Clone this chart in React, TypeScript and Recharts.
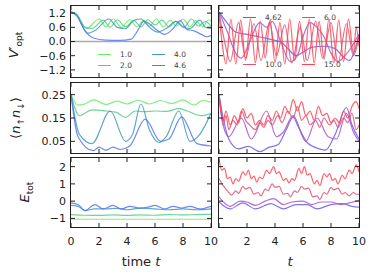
import React from 'react';
import { LineChart, Line, XAxis, YAxis, ReferenceLine } from 'recharts';

type Pt = [number, number];

const timeTicks = [0, 2, 4, 6, 8, 10];
const vTicks = [-1.2, -0.6, 0, 0.6, 1.2];
const nTicks = [0.05, 0.15, 0.25];
const eTicks = [-1, 0, 1, 2];

const leftNames = ['1.0', '2.0', '4.0', '4.6'];
const rightNames = ['4.62', '6.0', '10.0', '15.0'];
const leftColors = ['#66ee66', '#55cc88', '#4499bb', '#5577ee'];
const rightColors = ['#6a5aee', '#aa55cc', '#dd5577', '#ff4450'];

// V'_opt, left column
const vL1: Pt[] = [[0, 1.25], [0.4, 1.15], [1.1, 0.55], [2.0, 0.95], [2.5, 0.62], [3.0, 0.95], [3.6, 0.6], [4.2, 0.92], [4.7, 0.62], [5.2, 0.9], [5.6, 0.65], [6.1, 0.95], [6.6, 0.62], [7.1, 0.9], [7.5, 0.65], [8.0, 0.95], [8.5, 0.62], [8.9, 0.88], [9.4, 0.63], [9.85, 0.92], [10, 0.85]];
const vL2: Pt[] = [[0, 1.25], [0.4, 1.15], [1.0, 0.6], [1.5, 0.55], [2.3, 0.9], [2.8, 0.6], [3.3, 0.92], [3.9, 0.62], [4.5, 0.88], [5.0, 0.62], [5.5, 0.92], [6.0, 0.7], [6.5, 0.9], [7.0, 0.62], [7.5, 0.85], [8.1, 0.62], [8.6, 0.95], [9.1, 0.65], [9.6, 0.85], [10, 0.65]];
const vL3: Pt[] = [[0, 1.25], [0.4, 1.1], [1.2, 0.35], [1.8, 0.5], [2.7, 0.95], [3.3, 0.6], [3.9, 0.55], [4.5, 0.9], [5.0, 0.95], [5.6, 0.6], [6.2, 0.4], [6.8, 0.55], [7.5, 0.85], [8.0, 0.6], [8.5, 0.55], [9.2, 0.9], [9.6, 0.6], [10, 0.55]];
const vL4: Pt[] = [[0, 1.25], [0.4, 1.1], [1.0, 0.45], [1.6, 0.15], [2.5, 0.06], [3.5, 0.05], [4.3, 0.1], [4.8, 0.5], [5.2, 0.85], [5.6, 0.75], [6.1, 0.5], [6.7, 0.3], [7.3, 0.55], [7.8, 0.88], [8.3, 0.5], [8.8, 0.45], [9.3, 0.3], [9.7, 0.2], [10, 0.25]];

// V'_opt, right column
const vR1: Pt[] = [[0, 1.25], [0.5, 0.85], [1.2, 0.4], [2.0, 0.3], [3.0, 0.18], [4.0, 0.05], [4.5, -0.05], [5.0, -0.35], [5.5, -0.6], [6.0, -0.45], [6.6, -0.25], [7.5, -0.2], [8.3, -0.3], [8.8, -0.6], [9.3, -0.8], [9.6, -0.55], [10, 0.3]];
const vR2: Pt[] = [[0, 1.25], [0.6, 0.4], [1.2, -0.5], [1.6, -0.7], [2.2, 0.0], [2.9, 0.8], [3.4, 0.6], [3.8, 0.85], [4.4, 0], [5.1, -0.85], [5.6, -0.6], [6.0, 0.2], [6.5, 0.8], [7.0, 0.6], [7.5, 0.2], [8.0, -0.5], [8.5, -0.85], [9.0, -0.6], [9.5, -0.2], [10, 0.3]];
const vR3: Pt[] = [[0, 1.2], [0.4, 0.0], [0.8, -0.85], [1.4, 0.8], [1.9, -0.7], [2.5, 0.75], [3.0, -0.8], [3.6, 0.8], [4.1, -0.6], [4.7, 0.7], [5.2, -0.9], [5.8, 0.6], [6.3, -0.8], [6.9, 0.85], [7.4, -0.7], [8.0, 0.8], [8.5, -0.9], [9.1, 0.75], [9.6, -0.6], [10, 0.2]];
const vR4: Pt[] = [[0, 1.2], [0.25, -0.2], [0.5, -0.95], [0.85, 0.95], [1.2, -0.95], [1.55, 0.9], [1.9, -0.8], [2.25, 0.95], [2.6, -0.9], [2.95, 0.85], [3.3, -0.7], [3.65, 0.9], [4.0, -0.9], [4.35, 0.8], [4.7, -0.95], [5.05, 0.95], [5.4, -0.8], [5.75, 0.85], [6.1, -0.85], [6.45, 0.95], [6.8, -0.9], [7.15, 0.85], [7.5, -0.75], [7.85, 0.95], [8.2, -0.9], [8.55, 0.9], [8.9, -0.85], [9.25, 0.95], [9.6, -0.5], [9.8, 0.6], [10, -0.2]];

// <n_up n_down>, left column
const nL1: Pt[] = [[0, 0.25], [0.5, 0.205], [1.0, 0.21], [1.6, 0.228], [2.5, 0.208], [3.3, 0.222], [4.0, 0.21], [4.8, 0.226], [5.6, 0.21], [6.4, 0.225], [7.2, 0.212], [8.0, 0.228], [8.8, 0.205], [9.4, 0.225], [10, 0.218]];
const nL2: Pt[] = [[0, 0.25], [0.6, 0.16], [1.5, 0.185], [2.5, 0.18], [3.2, 0.175], [3.9, 0.153], [4.6, 0.18], [5.2, 0.177], [6.0, 0.18], [6.8, 0.178], [7.7, 0.19], [8.3, 0.18], [9.3, 0.16], [10, 0.17]];
const nL3: Pt[] = [[0, 0.25], [0.6, 0.08], [1.5, 0.04], [2.8, 0.18], [3.9, 0.05], [4.4, 0.08], [5.0, 0.21], [5.6, 0.1], [6.3, 0.045], [6.8, 0.07], [7.7, 0.18], [8.5, 0.05], [9.2, 0.08], [10, 0.17]];
const nL4: Pt[] = [[0, 0.25], [0.5, 0.07], [1.6, 0.01], [2.0, 0.025], [2.5, 0.012], [3.0, 0.025], [3.5, 0.015], [4.2, 0.03], [5.3, 0.145], [6.4, 0.05], [7.0, 0.06], [7.9, 0.155], [9.0, 0.04], [10, 0.03]];

// <n_up n_down>, right column
const nR1: Pt[] = [[0, 0.25], [0.3, 0.15], [0.7, 0.06], [1.4, 0.018], [2.1, 0.028], [2.9, 0.006], [3.6, 0.025], [4.2, 0.035], [4.8, 0.1], [5.3, 0.155], [5.6, 0.12], [6.3, 0.045], [7.2, 0.017], [7.6, 0.012], [8.3, 0.08], [9.1, 0.195], [9.5, 0.12], [10, 0.06]];
const nR2: Pt[] = [[0, 0.25], [0.3, 0.12], [0.7, 0.07], [1.6, 0.15], [2.3, 0.06], [3.4, 0.18], [4.1, 0.07], [4.6, 0.09], [5.3, 0.16], [6.2, 0.05], [7.0, 0.15], [7.8, 0.07], [8.4, 0.06], [9.1, 0.17], [9.6, 0.09], [10, 0.05]];
const nR3: Pt[] = [[0, 0.25], [0.3, 0.12], [0.5, 0.16], [0.7, 0.1], [1.0, 0.14], [1.3, 0.12], [1.6, 0.18], [1.9, 0.14], [2.2, 0.12], [2.6, 0.1], [2.9, 0.13], [3.2, 0.11], [3.5, 0.14], [3.8, 0.12], [4.2, 0.16], [4.5, 0.13], [4.9, 0.18], [5.3, 0.15], [5.6, 0.2], [5.9, 0.14], [6.2, 0.16], [6.5, 0.12], [6.9, 0.14], [7.2, 0.11], [7.5, 0.15], [7.9, 0.12], [8.2, 0.14], [8.5, 0.11], [8.9, 0.15], [9.2, 0.13], [9.5, 0.17], [9.8, 0.1], [10, 0.12]];
const nR4: Pt[] = [[0, 0.25], [0.3, 0.14], [0.5, 0.18], [0.8, 0.12], [1.1, 0.16], [1.4, 0.13], [1.7, 0.19], [2.0, 0.15], [2.3, 0.17], [2.6, 0.12], [2.9, 0.14], [3.2, 0.12], [3.5, 0.16], [3.8, 0.14], [4.1, 0.18], [4.4, 0.15], [4.7, 0.2], [5.0, 0.17], [5.3, 0.23], [5.6, 0.18], [5.9, 0.22], [6.2, 0.16], [6.5, 0.18], [6.8, 0.14], [7.1, 0.2], [7.4, 0.16], [7.7, 0.17], [8.0, 0.13], [8.3, 0.15], [8.6, 0.13], [8.9, 0.18], [9.2, 0.15], [9.5, 0.2], [9.8, 0.22], [10, 0.19]];

// E_tot, left column
const eL1: Pt[] = [[0, -1.05], [2, -1.05], [4, -1.05], [6, -1.05], [8, -1.05], [10, -1.05]];
const eL2: Pt[] = [[0, -0.78], [1, -0.82], [2, -0.83], [3, -0.8], [4, -0.83], [5, -0.8], [6, -0.82], [7, -0.78], [8, -0.8], [9, -0.78], [10, -0.77]];
const eL3: Pt[] = [[0, -0.25], [0.5, -0.3], [1.0, -0.55], [1.7, -0.45], [2.5, -0.45], [3.3, -0.42], [4.0, -0.5], [5.0, -0.4], [6.0, -0.45], [7.0, -0.5], [8.0, -0.45], [9.0, -0.5], [10, -0.45]];
const eL4: Pt[] = [[0, -0.1], [0.5, -0.2], [1.0, -0.55], [1.7, -0.2], [2.3, -0.45], [3.0, -0.25], [3.6, -0.45], [4.2, -0.3], [4.9, -0.4], [5.5, -0.35], [6.0, -0.25], [6.7, -0.45], [7.3, -0.3], [7.9, -0.4], [8.5, -0.3], [9.2, -0.45], [10, -0.3]];

// E_tot, right column
const eR1: Pt[] = [[0, -0.05], [0.8, -0.45], [1.7, -0.1], [2.6, -0.45], [3.7, -0.15], [4.6, -0.45], [5.5, -0.2], [6.3, -0.2], [7.0, -0.45], [8.0, -0.2], [8.8, -0.15], [9.5, -0.3], [10, -0.35]];
const eR2: Pt[] = [[0, 0.25], [0.8, -0.3], [1.5, 0.0], [2.0, -0.05], [2.6, -0.25], [3.3, 0.0], [3.9, 0.15], [4.6, -0.2], [5.2, -0.05], [6.0, 0.0], [6.6, -0.2], [7.3, -0.05], [8.0, -0.05], [8.7, -0.2], [9.3, -0.1], [10, 0.05]];
const eR3: Pt[] = [[0, 1.3], [0.3, 0.9], [0.6, 0.6], [0.9, 0.35], [1.2, 0.6], [1.4, 0.45], [1.7, 0.85], [1.9, 0.7], [2.2, 0.8], [2.5, 0.4], [2.8, 0.5], [3.0, 0.3], [3.3, 0.7], [3.5, 0.6], [3.8, 1.0], [4.0, 0.8], [4.3, 0.85], [4.6, 0.4], [4.9, 0.45], [5.1, 0.25], [5.4, 0.6], [5.6, 0.5], [5.9, 0.85], [6.1, 0.7], [6.4, 0.75], [6.7, 0.25], [7.0, 0.3], [7.2, 0.1], [7.5, 0.5], [7.7, 0.4], [8.0, 0.8], [8.2, 0.65], [8.5, 0.75], [8.8, 0.4], [9.0, 0.5], [9.3, 0.3], [9.6, 0.5], [9.8, 0.4], [10, 0.4]];
const eR4: Pt[] = [[0, 2.4], [0.2, 1.8], [0.4, 1.9], [0.6, 1.3], [0.8, 1.4], [1.0, 1.0], [1.2, 1.3], [1.4, 1.15], [1.7, 1.7], [1.9, 1.5], [2.1, 1.8], [2.3, 1.3], [2.5, 1.45], [2.7, 1.1], [2.9, 1.4], [3.1, 1.3], [3.4, 1.8], [3.6, 1.6], [3.9, 2.0], [4.1, 1.6], [4.3, 1.7], [4.6, 1.2], [4.8, 1.3], [5.0, 1.05], [5.2, 1.3], [5.4, 1.2], [5.7, 1.9], [5.9, 1.6], [6.1, 2.0], [6.3, 1.5], [6.5, 1.6], [6.8, 1.0], [7.0, 1.2], [7.2, 0.9], [7.5, 1.6], [7.7, 1.4], [7.9, 1.6], [8.1, 1.2], [8.3, 1.3], [8.5, 1.0], [8.8, 1.5], [9.0, 1.3], [9.3, 1.8], [9.5, 1.6], [9.8, 2.1], [10, 1.7]];

const PW = 140;
const TL = 4;
const INK = '#222';
const FONT = '"DejaVu Sans", sans-serif';

const fmt = (d: number) => (v: number) => v.toFixed(d).replace('-', '\u2212');

interface PanelProps {
  x: number;
  y: number;
  h: number;
  series: Pt[][];
  colors: string[];
  domain: [number, number];
  yTicks: number[];
  yFmt: (v: number) => string;
  showY: boolean;
  showX: boolean;
  skipFirstX?: boolean;
  zero?: boolean;
}

function Panel({ x, y, h, series, colors, domain, yTicks, yFmt, showY, showX, skipFirstX, zero }: PanelProps) {
  const padL = showY ? 50 : 1;
  const padB = showX ? 24 : 1;
  const padT = 2;
  const padR = showX ? 14 : 2;

  const xTick = (p: any) => (
    <g>
      <line x1={p.x} y1={p.y} x2={p.x} y2={p.y - TL} stroke={INK} />
      <line x1={p.x} y1={p.y - h} x2={p.x} y2={p.y - h + TL} stroke={INK} />
      {showX && !(skipFirstX && p.payload.value === 0) && (
        <text x={p.x} y={p.y + 18} textAnchor="middle" fontSize={11} fontFamily={FONT} fill={INK}>
          {p.payload.value}
        </text>
      )}
    </g>
  );
  const yTick = (p: any) => (
    <g>
      <line x1={p.x} y1={p.y} x2={p.x + TL} y2={p.y} stroke={INK} />
      <line x1={p.x + PW} y1={p.y} x2={p.x + PW - TL} y2={p.y} stroke={INK} />
      {showY && (
        <text x={p.x - 5} y={p.y} dy="0.36em" textAnchor="end" fontSize={11} fontFamily={FONT} fill={INK}>
          {yFmt(p.payload.value)}
        </text>
      )}
    </g>
  );

  return (
    <div style={{ position: 'absolute', left: x - padL, top: y - padT }}>
      <LineChart width={PW + padL + padR} height={h + padT + padB} margin={{ top: padT, right: padR, left: 0, bottom: 0 }}>
        <XAxis dataKey="t" type="number" domain={[0, 10]} ticks={timeTicks} interval={0} allowDataOverflow
          height={padB} axisLine={false} tickLine={false} tickSize={0} tickMargin={0} tick={xTick} />
        <YAxis type="number" domain={domain} ticks={yTicks} interval={0} allowDataOverflow
          width={padL} axisLine={false} tickLine={false} tickSize={0} tickMargin={0} tick={yTick} />
        {zero && <ReferenceLine y={0} stroke="#aaaaaa" strokeWidth={1.5} />}
        {series.map((s, i) => (
          <Line key={i} data={s.map(([t, v]) => ({ t, v }))} dataKey="v" type="monotone" stroke={colors[i]}
            strokeWidth={1.2} strokeOpacity={0.85} dot={false} isAnimationActive={false} />
        ))}
      </LineChart>
      <div style={{ position: 'absolute', left: padL - 1, top: padT - 1, width: PW + 2, height: h + 2,
        border: `1.6px solid ${INK}`, boxSizing: 'border-box', pointerEvents: 'none' }} />
    </div>
  );
}

function LegendItem({ x, y, color, label }: { x: number; y: number; color: string; label: string }) {
  return (
    <div style={{ position: 'absolute', left: x, top: y - 6, height: 12, display: 'flex', alignItems: 'center',
      fontFamily: FONT, fontSize: 7.5, color: '#444', whiteSpace: 'nowrap' }}>
      <span style={{ display: 'inline-block', width: 13, borderTop: `1.2px solid ${color}`, marginRight: 9 }} />
      {label}
    </div>
  );
}

const labelStyle: React.CSSProperties = {
  position: 'absolute', fontFamily: FONT, fontSize: 13, color: INK, whiteSpace: 'nowrap',
};

function YLabel({ cx, cy, children }: { cx: number; cy: number; children: React.ReactNode }) {
  return (
    <div style={{ ...labelStyle, left: cx, top: cy, transform: 'translate(-50%, -50%) rotate(-90deg)' }}>
      {children}
    </div>
  );
}

export default function App() {
  const LX = 71;
  const RX = 219;
  return (
    <div style={{ position: 'absolute', left: 0, top: 0, width: 375, height: 278, background: '#fff', overflow: 'hidden' }}>
      <Panel x={LX} y={6} h={71} series={[vL1, vL2, vL3, vL4]} colors={leftColors} domain={[-1.5, 1.5]}
        yTicks={vTicks} yFmt={fmt(1)} showY showX={false} zero />
      <Panel x={RX} y={6} h={71} series={[vR1, vR2, vR3, vR4]} colors={rightColors} domain={[-1.5, 1.5]}
        yTicks={vTicks} yFmt={fmt(1)} showY={false} showX={false} zero />
      <Panel x={LX} y={83} h={70} series={[nL1, nL2, nL3, nL4]} colors={leftColors} domain={[0, 0.3]}
        yTicks={nTicks} yFmt={fmt(2)} showY showX={false} />
      <Panel x={RX} y={83} h={70} series={[nR1, nR2, nR3, nR4]} colors={rightColors} domain={[0, 0.3]}
        yTicks={nTicks} yFmt={fmt(2)} showY={false} showX={false} />
      <Panel x={LX} y={158} h={69} series={[eL1, eL2, eL3, eL4]} colors={leftColors} domain={[-1.5, 2.5]}
        yTicks={eTicks} yFmt={fmt(0)} showY showX />
      <Panel x={RX} y={158} h={69} series={[eR1, eR2, eR3, eR4]} colors={rightColors} domain={[-1.5, 2.5]}
        yTicks={eTicks} yFmt={fmt(0)} showY={false} showX skipFirstX />

      <LegendItem x={98} y={54} color={leftColors[0]} label={leftNames[0]} />
      <LegendItem x={98} y={65} color={leftColors[1]} label={leftNames[1]} />
      <LegendItem x={152} y={54} color={leftColors[2]} label={leftNames[2]} />
      <LegendItem x={152} y={65} color={leftColors[3]} label={leftNames[3]} />
      <LegendItem x={243} y={17} color={rightColors[0]} label={rightNames[0]} />
      <LegendItem x={302} y={17} color={rightColors[1]} label={rightNames[1]} />
      <LegendItem x={243} y={64} color={rightColors[2]} label={rightNames[2]} />
      <LegendItem x={302} y={64} color={rightColors[3]} label={rightNames[3]} />

      <YLabel cx={15} cy={45}>
        <i>V</i>′<sub style={{ fontSize: 9 }}>opt</sub>
      </YLabel>
      <YLabel cx={17} cy={118}>
        ⟨<i>n</i><sub style={{ fontSize: 9 }}>↑</sub><i>n</i><sub style={{ fontSize: 9 }}>↓</sub>⟩
      </YLabel>
      <YLabel cx={26} cy={192}>
        <i>E</i><sub style={{ fontSize: 9 }}>tot</sub>
      </YLabel>
      <div style={{ ...labelStyle, left: 141, top: 261, transform: 'translate(-50%, -50%)' }}>
        time <i>t</i>
      </div>
      <div style={{ ...labelStyle, left: 290, top: 261, transform: 'translate(-50%, -50%)' }}>
        <i>t</i>
      </div>
    </div>
  );
}
